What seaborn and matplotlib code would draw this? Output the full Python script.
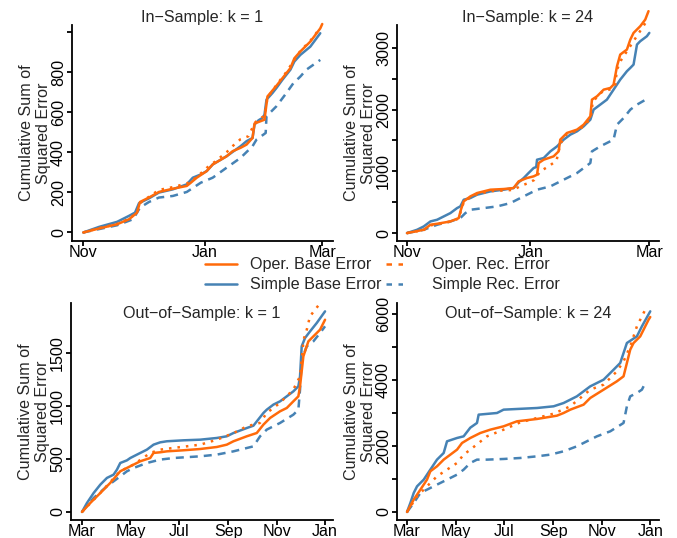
import pandas as pd
import matplotlib
matplotlib.use("Agg")
import matplotlib.pyplot as plt
from matplotlib.lines import Line2D
import seaborn as sns

# ---------------------------------------------------------------------------
# Cumulative sums of squared forecast error, read at selected days
# (days counted from the start of each sample period)
# ---------------------------------------------------------------------------
SERIES = ["Simple Base Error", "Simple Rec. Error", "Oper. Base Error", "Oper. Rec. Error"]
LEGEND_ORDER = ["Oper. Base Error", "Simple Base Error", "Oper. Rec. Error", "Simple Rec. Error"]

IN_START = "2014-11-01"
OUT_START = "2015-03-01"

# In-Sample, k = 1
is1_simple_base_days = [0, 8, 17, 23, 26, 28, 33, 38, 45, 52, 55, 59, 62, 65, 72, 79, 82, 85, 86, 88, 90, 91, 92, 95, 97, 100, 104, 106, 109, 114, 119]
is1_simple_base = [0, 28, 53, 83, 99, 146, 170, 199, 215, 240, 273, 289, 306, 339, 380, 430, 455, 471, 538, 559, 571, 587, 662, 695, 720, 761, 811, 852, 885, 926, 993]
is1_simple_rec_days = [0, 8, 17, 25, 28.5, 33, 38, 45, 52, 59, 65, 72, 79, 85, 87, 90.5, 91.6, 92, 97, 102, 105.5, 109, 112, 119]
is1_simple_rec = [0, 17, 36, 66, 124, 152, 174, 182, 202, 248, 273, 323, 372, 430, 463, 488, 496, 579, 629, 695, 744, 777, 811, 860]
is1_oper_base_days = [0, 8, 17, 23, 27, 28.5, 33, 38, 45, 52, 54, 57, 62, 65, 72, 75, 79, 82, 85, 86, 91, 92.5, 97, 102, 104, 106, 109, 114, 119, 120]
is1_oper_base = [0, 20, 41, 66, 99, 152, 174, 202, 218, 232, 248, 273, 306, 339, 380, 405, 422, 438, 471, 543, 562, 678, 731, 794, 819, 868, 902, 951, 1017, 1039]
is1_oper_rec_days = [0, 8, 17, 23, 27, 29, 33, 38, 45, 52, 55, 58, 62, 66, 72, 76, 79, 83, 86, 88, 91, 92.5, 97, 102, 104, 107, 109, 114, 119]
is1_oper_rec = [0, 22, 42, 68, 100, 150, 178, 212, 226, 244, 262, 285, 322, 352, 400, 440, 465, 480, 545, 565, 580, 670, 735, 800, 830, 875, 905, 955, 1020]

# In-Sample, k = 24
is24_simple_base_days = [0, 5, 8.3, 11.6, 14.9, 18.2, 21.5, 24.8, 26.4, 28.1, 31.4, 34.7, 41.3, 47.9, 52.8, 55.3, 57.8, 60.2, 62.7, 64, 64.4, 67.7, 71, 74.3, 77.6, 80.9, 84.2, 87.5, 90.8, 92.4, 95.7, 99, 102.3, 105.6, 108.9, 110.6, 112.2, 113.9, 115.5, 118.8, 120]
is24_simple_base = [0, 54, 108, 189, 216, 270, 324, 405, 432, 541, 568, 622, 676, 703, 730, 822, 892, 973, 1054, 1070, 1189, 1216, 1324, 1405, 1514, 1595, 1649, 1730, 1838, 2000, 2081, 2162, 2324, 2486, 2622, 2676, 2730, 3054, 3108, 3189, 3243]
is24_simple_rec_days = [0, 8.3, 14.9, 21.5, 26.4, 28.9, 31.4, 38, 44.6, 51.2, 54.5, 57.8, 64.4, 71, 77.6, 84.2, 87.5, 90.8, 91.6, 95.7, 102.3, 104, 107.3, 110.6, 113.9, 118.8]
is24_simple_rec = [0, 54, 135, 189, 243, 324, 378, 405, 432, 486, 541, 595, 703, 757, 865, 973, 1054, 1135, 1324, 1405, 1514, 1757, 1865, 2000, 2081, 2173]
is24_oper_base_days = [0, 8.3, 11.6, 14.9, 21.5, 25.6, 26.7, 28.1, 31.4, 34.7, 41.3, 47.9, 52.8, 55.3, 59.4, 62.7, 64.4, 65.2, 67.7, 72.6, 75.1, 75.9, 79.2, 84.2, 87.5, 90.8, 91.6, 94.1, 97.4, 100.7, 102.3, 104, 105.6, 108.9, 110.6, 112.2, 115.5, 118, 119.6]
is24_oper_base = [0, 54, 135, 151, 189, 243, 378, 514, 595, 649, 703, 714, 730, 838, 892, 919, 946, 1135, 1189, 1243, 1324, 1514, 1622, 1676, 1757, 1892, 2162, 2216, 2324, 2351, 2405, 2703, 2892, 2973, 3135, 3243, 3351, 3459, 3595]
is24_oper_rec_days = [0, 8.3, 11.6, 14.9, 21.5, 25.6, 26.7, 28.1, 31.4, 34.7, 41.3, 47.9, 52.8, 56, 60, 63, 66, 70, 74, 76, 79, 84, 88, 91, 92, 94, 97, 101, 103, 104, 106, 109, 111, 113, 116, 118, 119.6]
is24_oper_rec = [0, 50, 125, 145, 185, 235, 360, 500, 580, 630, 680, 690, 700, 760, 810, 860, 1000, 1080, 1170, 1450, 1600, 1660, 1740, 1870, 2130, 2200, 2300, 2330, 2380, 2650, 2800, 2950, 3050, 3150, 3300, 3400, 3450]

# Out-of-Sample, k = 1
os1_simple_base_days = [0, 6.3, 14.7, 23.1, 31.4, 39.8, 44, 48.2, 56.6, 60.8, 69.2, 81.7, 90.1, 98.5, 106.9, 127.8, 148.8, 169.7, 182.3, 190.7, 207.5, 215.8, 228.4, 232.6, 241, 249.4, 257.8, 266.1, 272.4, 274.5, 276.6, 280.8, 287.1, 295.5, 306]
os1_simple_base = [0, 85, 179, 258, 321, 352, 399, 462, 487, 509, 541, 588, 635, 657, 667, 676, 682, 698, 714, 745, 792, 814, 934, 965, 1013, 1044, 1091, 1138, 1186, 1280, 1563, 1642, 1704, 1783, 1893]
os1_simple_rec_days = [0, 14.7, 31.4, 48.2, 56.6, 65, 81.7, 98.5, 115.3, 148.8, 169.7, 190.7, 215.8, 224.2, 232.6, 249.4, 266.1, 272.4, 274.5, 276.6, 282.9, 291.3, 299.7, 306]
os1_simple_rec = [0, 132, 242, 336, 384, 415, 462, 494, 509, 525, 541, 572, 619, 714, 777, 840, 918, 965, 1154, 1437, 1563, 1610, 1689, 1752]
os1_oper_base_days = [0, 10.5, 23.1, 35.6, 48.2, 60.8, 73.3, 85.9, 90.1, 98.5, 106.9, 127.8, 148.8, 169.7, 182.3, 190.7, 207.5, 220, 228.4, 236.8, 249.4, 257.8, 266.1, 272.4, 274.5, 278.7, 285, 291.3, 299.7, 306]
os1_oper_base = [0, 85, 179, 274, 384, 431, 478, 509, 557, 563, 572, 582, 594, 613, 635, 667, 714, 745, 824, 887, 950, 981, 1044, 1091, 1186, 1469, 1610, 1657, 1720, 1814]
os1_oper_rec_days = [0, 23, 48, 65, 86, 98.5, 115, 149, 170, 191, 207.5, 224, 232.6, 249, 266, 274.5, 279, 283, 287, 300]
os1_oper_rec = [0, 179, 384, 447, 557, 588, 604, 635, 682, 745, 808, 840, 934, 1028, 1154, 1280, 1626, 1720, 1846, 1972]

# Out-of-Sample, k = 24
os24_simple_base_days = [0, 4.2, 8.4, 12.6, 21, 29.3, 37.7, 46.1, 50.3, 62.9, 71.2, 79.6, 88, 90.1, 113.2, 121.5, 163.5, 184.4, 197, 213.7, 230.5, 247.3, 259.9, 268.2, 272.4, 276.6, 289.2, 295.5, 306]
os24_simple_base = [0, 272, 575, 776, 978, 1280, 1583, 1784, 2137, 2238, 2288, 2550, 2692, 2944, 2994, 3095, 3145, 3196, 3296, 3498, 3800, 4002, 4304, 4506, 4808, 5111, 5312, 5615, 6069]
os24_simple_rec_days = [0, 8.4, 16.8, 25.1, 37.7, 50.3, 62.9, 71.2, 79.6, 88, 100.6, 121.5, 142.5, 163.5, 180.2, 197, 213.7, 230.5, 238.9, 255.7, 272.4, 276.6, 280.8, 289.2, 295.5, 299.7]
os24_simple_rec = [0, 272, 575, 675, 827, 978, 1129, 1280, 1482, 1583, 1583, 1603, 1633, 1683, 1734, 1835, 1986, 2188, 2288, 2440, 2692, 3196, 3498, 3599, 3700, 3901]
os24_oper_base_days = [0, 8.4, 16.8, 25.1, 29.3, 37.7, 46.1, 54.5, 62.9, 69.2, 79.6, 92.2, 104.8, 121.5, 138.3, 163.5, 188.6, 197, 205.4, 222.1, 230.5, 247.3, 264, 272.4, 276.6, 280.8, 285, 293.4, 297.6, 303.9, 306]
os24_oper_base = [0, 373, 675, 978, 1230, 1381, 1583, 1734, 1885, 2087, 2238, 2389, 2490, 2591, 2742, 2813, 2913, 2994, 3095, 3246, 3448, 3700, 3952, 4103, 4506, 4909, 5111, 5312, 5514, 5817, 5897]
os24_oper_rec_days = [0, 12.6, 21, 29.3, 37.7, 50.3, 62.9, 71.2, 79.6, 100.6, 121.5, 142.5, 163.5, 184.4, 205.4, 230.5, 247.3, 264, 272.4, 280.8, 289.2, 299.7]
os24_oper_rec = [0, 474, 675, 877, 1079, 1280, 1482, 1734, 1885, 2288, 2490, 2712, 2843, 2974, 3196, 3700, 3851, 4254, 4556, 5010, 5615, 6119]

# Axis ticks and labels
in_tick_dates = ["2014-11-01", "2015-01-01", "2015-03-01"]
in_tick_labels = ["Nov", "Jan", "Mar"]
out_tick_dates = ["2015-03-01", "2015-05-01", "2015-07-01", "2015-09-01", "2015-11-01", "2016-01-01"]
out_tick_labels = ["Mar", "May", "Jul", "Sep", "Nov", "Jan"]

is1_yticks = [0, 200, 400, 600, 800, 1000]
is1_ylabels = ["0", "200", "400", "600", "800", ""]
is24_yticks = [0, 500, 1000, 1500, 2000, 2500, 3000]
is24_ylabels = ["0", "", "1000", "", "2000", "", "3000"]
os1_yticks = [0, 500, 1000, 1500]
os1_ylabels = ["0", "500", "1000", "1500"]
os24_yticks = [0, 1000, 2000, 3000, 4000, 5000, 6000]
os24_ylabels = ["0", "", "2000", "", "4000", "", "6000"]

# ---------------------------------------------------------------------------
ORANGE = "#FF6A0A"
BLUE = "#4682B4"
PALETTE = {"Oper. Base Error": ORANGE, "Oper. Rec. Error": ORANGE,
           "Simple Base Error": BLUE, "Simple Rec. Error": BLUE}
DASHES = {"Oper. Base Error": "", "Oper. Rec. Error": (1.0, 2.4),
          "Simple Base Error": "", "Simple Rec. Error": (3.2, 2.4)}
LW = 1.8
FS = 11.6

sns.set_theme(style="ticks")
plt.rcParams["font.family"] = ["Liberation Sans", "DejaVu Sans"]
plt.rcParams["font.size"] = FS
plt.rcParams["axes.linewidth"] = 1.3

W, H = 677, 538
fig = plt.figure(figsize=(W / 100, H / 100), dpi=100)


def panel_axes(left, right, top, bottom):
    return fig.add_axes([left / W, 1 - bottom / H, (right - left) / W, (bottom - top) / H])


def long_frame(start, days_by_series):
    frames = []
    for name, (days, vals) in days_by_series.items():
        frames.append(pd.DataFrame({
            "date": pd.Timestamp(start) + pd.to_timedelta(days, unit="D"),
            "value": vals,
            "series": name,
        }))
    return pd.concat(frames, ignore_index=True)


def draw_panel(ax, start, data, xlim_days, ylim, tick_dates, tick_labels,
               yticks, ylabels, title, title_inside):
    df = long_frame(start, data)
    sns.lineplot(data=df, x="date", y="value", hue="series", style="series",
                 hue_order=SERIES, style_order=SERIES, palette=PALETTE,
                 dashes=DASHES, linewidth=LW, estimator=None, sort=True,
                 legend=False, ax=ax, clip_on=False)
    t0 = pd.Timestamp(start)
    ax.set_xlim(t0 + pd.Timedelta(days=xlim_days[0]), t0 + pd.Timedelta(days=xlim_days[1]))
    ax.set_ylim(*ylim)
    ax.set_xticks([pd.Timestamp(d) for d in tick_dates])
    ax.set_xticklabels(tick_labels)
    ax.set_yticks(yticks)
    ax.set_yticklabels(ylabels)
    for lab in ax.get_yticklabels():
        lab.set_rotation(90)
        lab.set_va("center")
    ax.tick_params(axis="both", length=3.6, width=1.3, labelsize=FS, colors="black")
    ax.tick_params(axis="y", pad=0.5)
    ax.tick_params(axis="x", pad=-0.6)
    ax.set_xlabel("")
    ax.set_ylabel("Cumulative Sum of\nSquared Error", fontsize=FS, linespacing=1.2)
    ax.yaxis.set_label_coords(-0.079, 0.5)
    for side in ("top", "right"):
        ax.spines[side].set_visible(False)
    for side in ("left", "bottom"):
        ax.spines[side].set_color("black")
    if title_inside:
        ax.text(0.5, 0.931, title, transform=ax.transAxes, ha="center", va="baseline", fontsize=FS)
    else:
        ax.set_title(title, fontsize=FS, pad=1.6)


ax_tl = panel_axes(71.7, 333, 25, 240.5)
ax_tr = panel_axes(396.7, 659, 25, 240.5)
ax_bl = panel_axes(70.7, 333, 303.3, 520)
ax_br = panel_axes(396.7, 659, 303.3, 520)

draw_panel(ax_tl, IN_START, {
    "Simple Base Error": (is1_simple_base_days, is1_simple_base),
    "Simple Rec. Error": (is1_simple_rec_days, is1_simple_rec),
    "Oper. Base Error": (is1_oper_base_days, is1_oper_base),
    "Oper. Rec. Error": (is1_oper_rec_days, is1_oper_rec),
}, (-5.8, 125.4), (-40, 1034), in_tick_dates, in_tick_labels,
    is1_yticks, is1_ylabels, "In\u2212Sample: k = 1", False)

draw_panel(ax_tr, IN_START, {
    "Simple Base Error": (is24_simple_base_days, is24_simple_base),
    "Simple Rec. Error": (is24_simple_rec_days, is24_simple_rec),
    "Oper. Base Error": (is24_oper_base_days, is24_oper_base),
    "Oper. Rec. Error": (is24_oper_rec_days, is24_oper_rec),
}, (-5.1, 124.8), (-120, 3371), in_tick_dates, in_tick_labels,
    is24_yticks, is24_ylabels, "In\u2212Sample: k = 24", False)

draw_panel(ax_bl, OUT_START, {
    "Simple Base Error": (os1_simple_base_days, os1_simple_base),
    "Simple Rec. Error": (os1_simple_rec_days, os1_simple_rec),
    "Oper. Base Error": (os1_oper_base_days, os1_oper_base),
    "Oper. Rec. Error": (os1_oper_rec_days, os1_oper_rec),
}, (-14.2, 316), (-76, 1969), out_tick_dates, out_tick_labels,
    os1_yticks, os1_ylabels, "Out\u2212of\u2212Sample: k = 1", True)

draw_panel(ax_br, OUT_START, {
    "Simple Base Error": (os24_simple_base_days, os24_simple_base),
    "Simple Rec. Error": (os24_simple_rec_days, os24_simple_rec),
    "Oper. Base Error": (os24_oper_base_days, os24_oper_base),
    "Oper. Rec. Error": (os24_oper_rec_days, os24_oper_rec),
}, (-13.0, 317), (-243, 6312), out_tick_dates, out_tick_labels,
    os24_yticks, os24_ylabels, "Out\u2212of\u2212Sample: k = 24", True)

# Shared legend between the two rows of panels
legend_dashes = {"Oper. Base Error": "", "Simple Base Error": "",
                 "Oper. Rec. Error": (2.2, 2.6, 1.8, 20), "Simple Rec. Error": (2.2, 2.6, 1.8, 20)}
handles = []
for name in LEGEND_ORDER:
    h = Line2D([], [], color=PALETTE[name], linewidth=LW)
    if legend_dashes[name]:
        h.set_dashes(legend_dashes[name])
    handles.append(h)
fig.legend(handles, LEGEND_ORDER, ncol=2, loc="upper left",
           bbox_to_anchor=(205 / W, 1 - 257.5 / H), frameon=False,
           fontsize=FS, handlelength=2.0, handletextpad=0.8,
           columnspacing=0.3, labelspacing=0.3, borderpad=0, borderaxespad=0)

fig.savefig("out.png", dpi=100)
